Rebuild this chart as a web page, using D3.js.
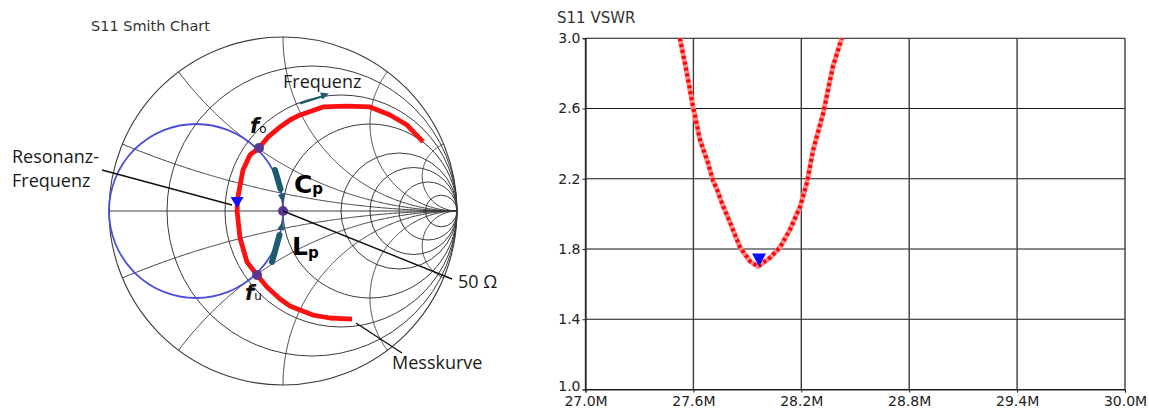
<!DOCTYPE html>
<html><head><meta charset="utf-8">
<script src="https://cdn.jsdelivr.net/npm/d3@7"></script>
<style>body{margin:0;background:#fff}svg{display:block}</style>
</head><body>
<svg id="c" width="1149" height="408"></svg>
<script>
// ---------- DATA ----------
// Smith chart grid values
const rCircles = [0.2, 0.5, 1, 2, 3, 5, 10];
const xArcs = [0.2, 0.5, 1, 2, 5];
// Measured S11 (reflection coefficient, real / imaginary)
const smithRe = [0.397,0.270,0.172,0.098,0.040,-0.017,-0.092,-0.149,-0.207,-0.247,-0.264,-0.261,-0.230,-0.190,-0.138,-0.086,-0.017,0.040,0.098,0.230,0.368,0.500,0.615,0.713,0.805];
const smithIm = [-0.621,-0.615,-0.598,-0.569,-0.546,-0.506,-0.437,-0.368,-0.293,-0.155,0.000,0.070,0.236,0.322,0.362,0.425,0.483,0.523,0.552,0.598,0.603,0.598,0.552,0.494,0.397];
// marked points: f_o, 50 ohm centre, f_u
const markerRe = [-0.138, 0.0, -0.149];
const markerIm = [0.362, 0.0, -0.368];
// resonance marker
const resRe = [-0.264];
const resIm = [0.0];
// VSWR trace (MHz, VSWR)
const vswrFreq = [27.525,27.564,27.598,27.637,27.681,27.709,27.731,27.759,27.804,27.859,27.915,27.959,28.026,28.082,28.137,28.193,28.232,28.265,28.321,28.376,28.425];
const vswrValue = [3.00,2.80,2.61,2.42,2.29,2.19,2.14,2.06,1.95,1.81,1.73,1.70,1.75,1.81,1.91,2.04,2.18,2.36,2.57,2.84,3.00];
const vswrMarkerFreq = [27.965];
const vswrMarkerValue = [1.70];
const xTicks = [27.0, 27.6, 28.2, 28.8, 29.4, 30.0];
const yTicks = [1.0, 1.4, 1.8, 2.2, 2.6, 3.0];

// ---------- SMITH CHART ----------
const svg = d3.select('#c');
const cx = 283, cy = 211, R = 174;
const sx = d3.scaleLinear().domain([-1, 1]).range([cx - R, cx + R]);
const sy = d3.scaleLinear().domain([-1, 1]).range([cy + R, cy - R]);
const sline = d3.line().x(d => sx(d[0])).y(d => sy(d[1]));
const gs = svg.append('g');
const gridCol = '#3a3a3a';

svg.append('text').attr('x', 91).attr('y', 31).text('S11 Smith Chart')
  .attr('font-family', 'DejaVu Sans').attr('font-size', 14.5).attr('fill', '#333');

gs.append('circle').attr('cx', sx(0)).attr('cy', sy(0)).attr('r', R)
  .attr('fill', 'none').attr('stroke', gridCol).attr('stroke-width', 1.1);
rCircles.forEach(r => {
  gs.append('circle').attr('cx', sx(r / (1 + r))).attr('cy', sy(0))
    .attr('r', sx(1 / (1 + r)) - sx(0))
    .attr('fill', 'none').attr('stroke', gridCol).attr('stroke-width', 1);
});
gs.append('path').attr('d', sline([[-1, 0], [1, 0]])).attr('stroke', gridCol).attr('stroke-width', 1).attr('fill', 'none');
xArcs.forEach(x => [1, -1].forEach(s => {
  const pts = [];
  for (let i = 0; i <= 300; i++) {
    const r = Math.tan(i / 301 * Math.PI / 2);
    const xx = s * x;
    const den = (r + 1) * (r + 1) + xx * xx;
    pts.push([(r * r - 1 + xx * xx) / den, 2 * xx / den]);
  }
  pts.push([1, 0]);
  gs.append('path').attr('d', sline(pts)).attr('fill', 'none').attr('stroke', gridCol).attr('stroke-width', 1);
}));

// g = 1 admittance circle (blue)
gs.append('circle').attr('cx', sx(-0.5)).attr('cy', sy(0)).attr('r', sx(0.5) - sx(0))
  .attr('fill', 'none').attr('stroke', '#4a4fd6').attr('stroke-width', 1.8);

// measured curve
const curve = smithRe.map((v, i) => [v, smithIm[i]]);
gs.append('path').attr('d', sline(curve)).attr('fill', 'none')
  .attr('stroke', '#ff1010').attr('stroke-width', 4.8).attr('stroke-linejoin', 'round');

// annotations (leader lines)
const ann = svg.append('g');
const leader = (x1, y1, x2, y2) => ann.append('line').attr('x1', x1).attr('y1', y1).attr('x2', x2).attr('y2', y2)
  .attr('stroke', '#111').attr('stroke-width', 1.4);
leader(102, 170, 232, 205);
leader(sx(0), sy(0), 452, 279);
leader(356, 323, 402, 353);

// C_p / L_p arrows
const teal = '#1d5b72';
const bar = (x1, y1, x2, y2, hx, hy) => {
  ann.append('line').attr('x1', x1).attr('y1', y1).attr('x2', x2).attr('y2', y2)
    .attr('stroke', teal).attr('stroke-width', 6).attr('stroke-linecap', 'round');
  const a = Math.atan2(hy - y2, hx - x2), L = 9, W = 3.5;
  const bx = hx - L * Math.cos(a), by = hy - L * Math.sin(a);
  ann.append('path').attr('d', `M${hx},${hy}L${bx + W * Math.sin(a)},${by - W * Math.cos(a)}L${bx - W * Math.sin(a)},${by + W * Math.cos(a)}Z`).attr('fill', teal);
};
bar(275, 170, 280.5, 189, 283, 203);
bar(272, 262, 279.5, 235, 283, 221);

// Frequenz arrow
ann.append('line').attr('x1', 300).attr('y1', 103.5).attr('x2', 322).attr('y2', 96.5)
  .attr('stroke', teal).attr('stroke-width', 2);
ann.append('path').attr('d', 'M329,93.5L320,92.5L322.5,99.5Z').attr('fill', teal);

// marker points
gs.selectAll('circle.m').data(markerRe).enter().append('circle').attr('class', 'm')
  .attr('cx', d => sx(d)).attr('cy', (d, i) => sy(markerIm[i])).attr('r', 5)
  .attr('fill', '#5b3694');
// resonance triangle
gs.selectAll('path.t').data(resRe).enter().append('path').attr('class', 't')
  .attr('d', (d, i) => { const X = sx(d), Y = sy(resIm[i]) - 3; return `M${X},${Y}L${X - 6.5},${Y - 11}L${X + 6.5},${Y - 11}Z`; })
  .attr('fill', '#1010ff');

// annotation text
const txt = (x, y, s, size) => ann.append('text').attr('x', x).attr('y', y).text(s)
    .attr('font-family', 'Open Sans').attr('font-size', size).attr('fill', '#1a1a1a');
txt(12, 163, 'Resonanz-', 18);
txt(12, 187, 'Frequenz', 18);
txt(283, 88, 'Frequenz', 18);
txt(458, 288, '50 Ω', 18);
txt(392, 369, 'Messkurve', 18);
const cp = ann.append('text').attr('x', 294).attr('y', 193).attr('font-family', 'DejaVu Sans').attr('font-weight', 'bold').attr('fill', '#000');
cp.append('tspan').attr('font-size', 25).text('C');
cp.append('tspan').attr('font-size', 15).attr('dy', 1).text('p');
const lp = ann.append('text').attr('x', 292).attr('y', 255).attr('font-family', 'DejaVu Sans').attr('font-weight', 'bold').attr('fill', '#000');
lp.append('tspan').attr('font-size', 25).text('L');
lp.append('tspan').attr('font-size', 15).attr('dy', 3).text('p');
const fo = ann.append('text').attr('x', 250).attr('y', 133).attr('font-family', 'DejaVu Sans').attr('fill', '#111');
fo.append('tspan').attr('font-size', 21).attr('font-weight', 'bold').attr('font-style', 'italic').text('f');
fo.append('tspan').attr('font-size', 12).attr('dx', 0).text('o');
const fu = ann.append('text').attr('x', 245).attr('y', 300).attr('font-family', 'DejaVu Sans').attr('fill', '#111');
fu.append('tspan').attr('font-size', 21).attr('font-weight', 'bold').attr('font-style', 'italic').text('f');
fu.append('tspan').attr('font-size', 12).attr('dx', 0).text('u');

// ---------- VSWR CHART ----------
const L0 = 585.5, R0 = 1125, T0 = 38.2, B0 = 389.5;
const vx = d3.scaleLinear().domain([27.0, 30.0]).range([L0, R0]);
const vy = d3.scaleLinear().domain([1.0, 3.0]).range([B0, T0]);
const gv = svg.append('g');
svg.append('text').attr('x', 557).attr('y', 23).text('S11 VSWR')
  .attr('font-family', 'DejaVu Sans').attr('font-size', 15).attr('fill', '#333');

const yAx = d3.axisLeft(vy).tickValues(yTicks).tickFormat(d3.format('.1f')).tickSize(3).tickPadding(2);
const xAx = d3.axisBottom(vx).tickValues(xTicks).tickFormat(d => d.toFixed(1) + 'M').tickSize(3).tickPadding(0);
// grid
gv.selectAll('line.hg').data(yTicks).enter().append('line').attr('class', 'hg')
  .attr('x1', L0).attr('x2', R0).attr('y1', d => vy(d)).attr('y2', d => vy(d))
  .attr('stroke', '#151515').attr('stroke-width', 1.1);
gv.selectAll('line.vg').data(xTicks).enter().append('line').attr('class', 'vg')
  .attr('x1', d => vx(d)).attr('x2', d => vx(d)).attr('y1', T0).attr('y2', B0)
  .attr('stroke', '#3d3d3d').attr('stroke-width', 1.4);
const ya = gv.append('g').attr('transform', `translate(${L0},0)`).call(yAx);
const xa = gv.append('g').attr('transform', `translate(0,${B0})`).call(xAx);
[ya, xa].forEach(a => {
  a.select('.domain').attr('stroke', '#222').attr('stroke-width', 1.2);
  a.selectAll('.tick line').attr('stroke', '#222');
  a.selectAll('text').attr('font-family', 'DejaVu Sans').attr('font-size', 14).attr('fill', '#222');
});
xa.selectAll('text').attr('dy', '0.95em');
// the lowest y label sits slightly above its tick, as in the reference
ya.selectAll('.tick').filter(d => d === 1.0).select('text').attr('dy', '0.1em');

svg.append('clipPath').attr('id', 'pc').append('rect').attr('x', L0).attr('y', T0).attr('width', R0 - L0).attr('height', B0 - T0);
const vline = d3.line().x(d => vx(d[0])).y(d => vy(d[1]));
const vdata = vswrFreq.map((f, i) => [f, vswrValue[i]]);
const gc = gv.append('g').attr('clip-path', 'url(#pc)');
gc.append('path').attr('d', vline(vdata)).attr('fill', 'none')
  .attr('stroke', '#ff8a8a').attr('stroke-width', 5).attr('stroke-linejoin', 'round');
gc.append('path').attr('d', vline(vdata)).attr('fill', 'none')
  .attr('stroke', '#ff0000').attr('stroke-width', 4).attr('stroke-dasharray', '3,3');
gv.selectAll('path.vm').data(vswrMarkerFreq).enter().append('path').attr('class', 'vm')
  .attr('d', (d, i) => { const X = vx(d), Y = vy(vswrMarkerValue[i]); return `M${X},${Y}L${X - 7},${Y - 13}L${X + 7},${Y - 13}Z`; })
  .attr('fill', '#0a0aff');
</script>
</body></html>
